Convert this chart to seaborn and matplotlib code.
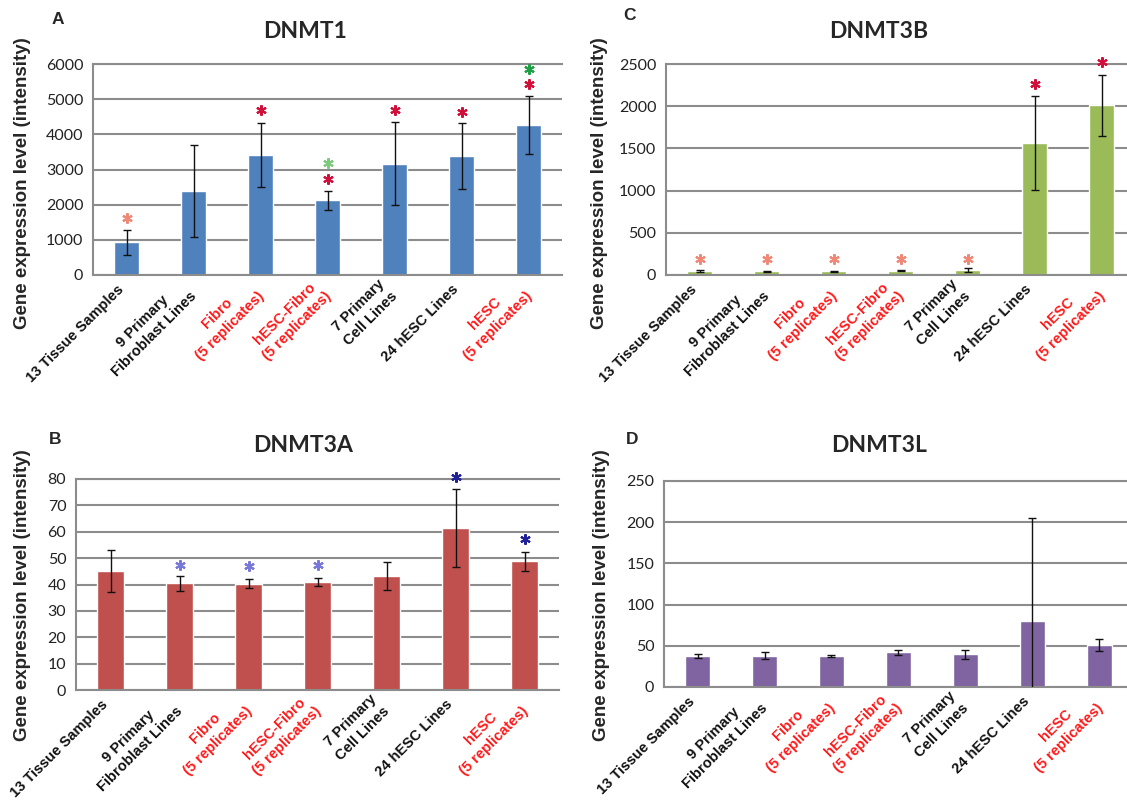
import matplotlib
matplotlib.use("Agg")
import matplotlib.pyplot as plt
import matplotlib.transforms as mtransforms
import numpy as np
import seaborn as sns

categories = ["13 Tissue Samples", "9 Primary\nFibroblast Lines", "Fibro\n(5 replicates)",
              "hESC-Fibro\n(5 replicates)", "7 Primary\nCell Lines", "24 hESC Lines",
              "hESC\n(5 replicates)"]
label_red = [False, False, True, True, False, False, True]

# DNMT1
dnmt1_vals = [930, 2380, 3400, 2130, 3170, 3380, 4270]
dnmt1_err = [355, 1310, 910, 270, 1185, 945, 830]
dnmt1_star_x = [0, 2, 3, 3, 4, 5, 6, 6]
dnmt1_star_y = [1620, 4690, 2720, 3180, 4690, 4640, 5430, 5860]
dnmt1_star_c = ["salmon", "red", "red", "lightgreen", "red", "red", "red", "green"]

# DNMT3B
dnmt3b_vals = [45, 45, 45, 50, 60, 1560, 2010]
dnmt3b_err = [10, 5, 5, 6, 20, 555, 360]
dnmt3b_star_x = [0, 1, 2, 3, 4, 5, 6]
dnmt3b_star_y = [190, 190, 190, 190, 190, 2260, 2520]
dnmt3b_star_c = ["salmon"] * 5 + ["red", "red"]

# DNMT3A
dnmt3a_vals = [45, 40.5, 40.3, 41, 43.3, 61.5, 48.8]
dnmt3a_err = [8, 2.9, 1.6, 1.6, 5.3, 14.7, 3.7]
dnmt3a_star_x = [1, 2, 3, 5, 6]
dnmt3a_star_y = [47.5, 47.0, 47.5, 80.8, 57.3]
dnmt3a_star_c = ["lightblue", "lightblue", "lightblue", "darkblue", "darkblue"]

# DNMT3L
dnmt3l_vals = [37.5, 38, 38, 42, 39.5, 79.5, 51]
dnmt3l_err = [2, 4, 1, 3, 5, 125.5, 7]

star_colors = {"salmon": "#F08878", "red": "#D0103A", "lightgreen": "#7CCB7C",
               "green": "#1FA045", "lightblue": "#7878D8", "darkblue": "#202098"}

W, H = 1127, 801
fig = plt.figure(figsize=(W / 100, H / 100), dpi=100)
sns.set_style("white")
plt.rcParams["font.family"] = ["Liberation Sans", "DejaVu Sans"]

grid_c = "#8C8C8C"


def px_axes(left, top, right, bottom):
    return fig.add_axes([left / W, 1 - bottom / H, (right - left) / W, (bottom - top) / H])


def panel(box, vals, errs, color, ymax, ystep, title, title_xy, letter, letter_xy, ylab_xy,
          sx=None, sy=None, sc=None):
    ax = px_axes(*box)
    sns.barplot(x=categories, y=vals, color=color, saturation=1, width=0.38, ax=ax)
    ax.errorbar(np.arange(len(vals)), vals, yerr=errs, fmt="none", ecolor="#111111",
                elinewidth=1.0, capsize=3, capthick=1.0, zorder=3)
    if sx is not None:
        for x, y, c in zip(sx, sy, sc):
            ax.plot(x, y, marker=(6, 2, 0), markersize=7.5, mew=1.5, ls="none",
                    color=star_colors[c], clip_on=False, zorder=4)
    ax.set_xlim(-0.5, len(vals) - 0.5)
    ax.set_ylim(0, ymax)
    ax.set_yticks(np.arange(0, ymax + ystep / 2, ystep))
    ax.yaxis.grid(True, color=grid_c, lw=1.5)
    ax.set_axisbelow(True)
    ax.spines["right"].set_visible(False)
    for s in ["left", "bottom", "top"]:
        ax.spines[s].set_color(grid_c)
        ax.spines[s].set_linewidth(1.5)
    ax.tick_params(axis="y", length=4, width=1.2, color=grid_c, labelsize=11.5, pad=3,
                   labelcolor="#222222")
    for t in ax.get_yticklabels():
        t.set_fontfamily(["Lato", "DejaVu Sans"])
    ax.set_xticks(np.arange(len(vals)))
    ax.set_xticks(np.arange(-0.5, len(vals), 1), minor=True)
    ax.tick_params(axis="x", which="major", length=0, pad=9)
    ax.tick_params(axis="x", which="minor", length=5, width=1.2, color=grid_c)
    ax.set_xticklabels(categories, rotation=45, ha="right", va="center",
                       rotation_mode="anchor", fontsize=10.5, fontweight="bold",
                       multialignment="center", linespacing=1.3)
    shift = mtransforms.ScaledTranslation(-5 / 100, 0, fig.dpi_scale_trans)
    for lbl, red in zip(ax.get_xticklabels(), label_red):
        lbl.set_color("#FF1A1A" if red else "#111111")
        lbl.set_transform(lbl.get_transform() + shift)
    ax.set_xlabel("")
    ax.set_ylabel("")
    fig.text(title_xy[0] / W, 1 - title_xy[1] / H, title, ha="center", va="center",
             fontsize=16.5, fontweight="bold", family=["Lato", "DejaVu Sans"])
    fig.text(letter_xy[0] / W, 1 - letter_xy[1] / H, letter, ha="center", va="center",
             fontsize=12.5, fontweight="bold")
    fig.text(ylab_xy[0] / W, 1 - ylab_xy[1] / H, "Gene expression level (intensity)",
             rotation=90, ha="center", va="center", fontsize=13.5, fontweight="bold")
    return ax


panel((93, 64, 562, 275), dnmt1_vals, dnmt1_err, "#4F81BD", 6000, 1000,
      "DNMT1", (305, 32), "A", (58, 20), (23, 183),
      dnmt1_star_x, dnmt1_star_y, dnmt1_star_c)
panel((666, 64, 1135, 275), dnmt3b_vals, dnmt3b_err, "#9BBB59", 2500, 500,
      "DNMT3B", (879, 31), "C", (629, 16), (600, 183),
      dnmt3b_star_x, dnmt3b_star_y, dnmt3b_star_c)
panel((76, 479, 559, 690), dnmt3a_vals, dnmt3a_err, "#C0504D", 80, 10,
      "DNMT3A", (303, 445), "B", (55, 439), (23, 595),
      dnmt3a_star_x, dnmt3a_star_y, dnmt3a_star_c)
panel((664, 481, 1133, 687), dnmt3l_vals, dnmt3l_err, "#8064A2", 250, 50,
      "DNMT3L", (879, 445), "D", (632, 440), (601, 595))

fig.savefig("out.png", dpi=100)
